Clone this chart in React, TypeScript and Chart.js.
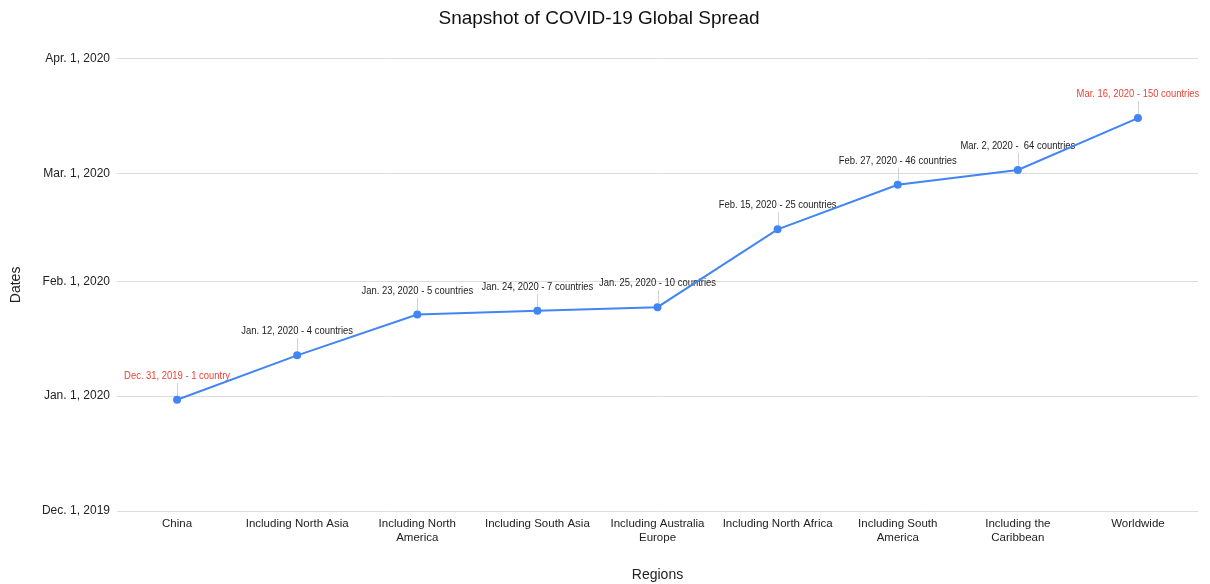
import React, { useEffect, useRef } from "react";
import { Chart, registerables } from "chart.js";

Chart.register(...registerables);

const categories: string[][] = [
  ["China"],
  ["Including North Asia"],
  ["Including North", "America"],
  ["Including South Asia"],
  ["Including Australia", "Europe"],
  ["Including North Africa"],
  ["Including South", "America"],
  ["Including the", "Caribbean"],
  ["Worldwide"],
];

const reachedDates: string[] = [
  "2019-12-31",
  "2020-01-12",
  "2020-01-23",
  "2020-01-24",
  "2020-01-25",
  "2020-02-15",
  "2020-02-27",
  "2020-03-02",
  "2020-03-16",
];

const pointLabels: string[] = [
  "Dec. 31, 2019 - 1 country",
  "Jan. 12, 2020 - 4 countries",
  "Jan. 23, 2020 - 5 countries",
  "Jan. 24, 2020 - 7 countries",
  "Jan. 25, 2020 - 10 countries",
  "Feb. 15, 2020 - 25 countries",
  "Feb. 27, 2020 - 46 countries",
  "Mar. 2, 2020 -  64 countries",
  "Mar. 16, 2020 - 150 countries",
];

const highlighted: boolean[] = [true, false, false, false, false, false, false, false, true];

const tickDates: string[] = ["2019-12-01", "2020-01-01", "2020-02-01", "2020-03-01", "2020-04-01"];
const tickLabels: string[] = ["Dec. 1, 2019", "Jan. 1, 2020", "Feb. 1, 2020", "Mar. 1, 2020", "Apr. 1, 2020"];

const ORIGIN = Date.UTC(2019, 11, 1);
const toDays = (s: string) => {
  const [y, m, d] = s.split("-").map(Number);
  return Math.round((Date.UTC(y, m - 1, d) - ORIGIN) / 86400000);
};

const dayValues = reachedDates.map(toDays);
const tickValues = tickDates.map(toDays);

const SANS = '"Liberation Sans", Arial, Helvetica, sans-serif';

const labelPlugin = {
  id: "pointTextLabels",
  beforeDatasetsDraw(chart: any) {
    const ctx = chart.ctx;
    const meta = chart.getDatasetMeta(0);
    meta.data.forEach((pt: any, i: number) => {
      const x = Math.round(pt.x) + 0.5;
      const y = pt.y;
      ctx.save();
      ctx.strokeStyle = "#d0d0d0";
      ctx.lineWidth = 1;
      ctx.beginPath();
      ctx.moveTo(x, y - 4);
      ctx.lineTo(x, y - 17);
      ctx.stroke();
      ctx.translate(pt.x, y - 24);
      ctx.scale(0.82, 1);
      ctx.font = "11.5px " + SANS;
      ctx.fillStyle = highlighted[i] ? "#EA4335" : "#222222";
      ctx.textAlign = "center";
      ctx.textBaseline = "middle";
      ctx.fillText(pointLabels[i], 0, 0);
      ctx.restore();
    });
  },
};

export default function App() {
  const ref = useRef<HTMLCanvasElement | null>(null);

  useEffect(() => {
    document.body.style.margin = "0";
    const canvas = ref.current;
    if (!canvas) return;
    const chart = new Chart(canvas, {
      type: "line",
      data: {
        labels: categories as any,
        datasets: [
          {
            data: dayValues,
            borderColor: "#4285F4",
            backgroundColor: "#4285F4",
            borderWidth: 2,
            pointRadius: 3,
            pointHoverRadius: 3,
            tension: 0,
          },
        ],
      },
      options: {
        responsive: false,
        animation: false,
        layout: { padding: { left: 0, right: 12, top: 0, bottom: 0 } },
        plugins: {
          legend: { display: false },
          tooltip: { enabled: false },
          title: {
            display: true,
            text: "Snapshot of COVID-19 Global Spread",
            color: "#111",
            font: { family: SANS, size: 19, weight: "normal" },
            padding: { top: 7, bottom: 29 },
          },
        },
        scales: {
          x: {
            type: "category",
            offset: true,
            grid: { display: false, drawTicks: false },
            border: { display: false },
            ticks: {
              color: "#222",
              font: { family: SANS, size: 11.5 },
              maxRotation: 0,
              autoSkip: false,
              padding: 6,
            },
            title: {
              display: true,
              text: "Regions",
              color: "#222",
              font: { family: SANS, size: 14 },
              padding: { top: 0, bottom: 0 },
            },
            afterFit(scale: any) {
              scale.height = 73;
            },
          },
          y: {
            type: "linear",
            min: tickValues[0],
            max: tickValues[tickValues.length - 1],
            grid: { color: "#dcdcdc", drawTicks: false, lineWidth: 1 },
            border: { display: false },
            afterBuildTicks(scale: any) {
              scale.ticks = tickValues.map((v) => ({ value: v }));
            },
            ticks: {
              color: "#222",
              font: { family: SANS, size: 12 },
              padding: 7,
              callback: (v: any) => {
                const idx = tickValues.indexOf(Number(v));
                return idx >= 0 ? tickLabels[idx] : "";
              },
            },
            title: {
              display: true,
              text: "Dates",
              color: "#222",
              font: { family: SANS, size: 14 },
              padding: { top: 8, bottom: 0 },
            },
            afterFit(scale: any) {
              scale.width = 117;
            },
          },
        },
      },
      plugins: [labelPlugin],
    });
    return () => chart.destroy();
  }, []);

  return (
    <div style={{ width: 1210, height: 584 }}>
      <canvas ref={ref} width={1210} height={584} />
    </div>
  );
}
